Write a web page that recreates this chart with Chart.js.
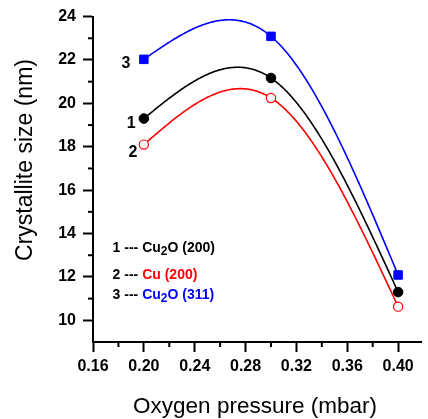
<!DOCTYPE html>
<html>
<head>
<meta charset="utf-8">
<script src="https://cdn.jsdelivr.net/npm/chart.js@4"></script>
<style>
  html, body { margin: 0; padding: 0; background: #fff; }
</style>
</head>
<body>
<canvas id="sizeChart" width="428" height="419"></canvas>
<script>
// Crystallite size vs oxygen pressure

const pressures = [0.20, 0.30, 0.40];
const cu2o200 = [19.30, 21.17, 11.30];
const cu200 = [18.10, 20.25, 10.63];
const cu2o311 = [22.03, 23.09, 12.09];

const xTicks = [0.16, 0.20, 0.24, 0.28, 0.32, 0.36, 0.40];
const yTicks = [10, 12, 14, 16, 18, 20, 22, 24];
const xMinor = [0.18, 0.22, 0.26, 0.30, 0.34, 0.38];
const yMinor = [11, 13, 15, 17, 19, 21, 23];

const FONT = "'Liberation Sans', Arial, sans-serif";

const points = (ys) => pressures.map((x, i) => ({ x: x, y: ys[i] }));

// natural cubic spline through the points (like Origin's spline connect)
function naturalSpline(xs, ys) {
  const n = xs.length;
  const h = [];
  const m = new Array(n).fill(0);
  for (let i = 0; i < n - 1; i++) h.push(xs[i + 1] - xs[i]);
  const a = [], b = [], c = [], d = [];
  for (let i = 1; i < n - 1; i++) {
    a.push(h[i - 1]);
    b.push(2 * (h[i - 1] + h[i]));
    c.push(h[i]);
    d.push(6 * ((ys[i + 1] - ys[i]) / h[i] - (ys[i] - ys[i - 1]) / h[i - 1]));
  }
  const k = b.length;
  for (let i = 1; i < k; i++) {
    const w = a[i] / b[i - 1];
    b[i] -= w * c[i - 1];
    d[i] -= w * d[i - 1];
  }
  for (let i = k - 1; i >= 0; i--) {
    m[i + 1] = (d[i] - (i < k - 1 ? c[i] * m[i + 2] : 0)) / b[i];
  }
  return function (x) {
    let i = 0;
    while (i < n - 2 && x > xs[i + 1]) i++;
    const hi = h[i], t0 = xs[i + 1] - x, t1 = x - xs[i];
    return m[i] * t0 * t0 * t0 / (6 * hi) + m[i + 1] * t1 * t1 * t1 / (6 * hi) +
      (ys[i] / hi - m[i] * hi / 6) * t0 + (ys[i + 1] / hi - m[i + 1] * hi / 6) * t1;
  };
}

const splinePlugin = {
  id: 'splines',
  beforeDatasetsDraw(chart) {
    const ctx = chart.ctx;
    const xs = chart.scales.x, ys = chart.scales.y;
    chart.data.datasets.forEach((ds) => {
      const px = ds.data.map(p => p.x), py = ds.data.map(p => p.y);
      const f = naturalSpline(px, py);
      const x0 = px[0], x1 = px[px.length - 1];
      ctx.save();
      ctx.beginPath();
      for (let s = 0; s <= 200; s++) {
        const x = x0 + (x1 - x0) * s / 200;
        const X = xs.getPixelForValue(x), Y = ys.getPixelForValue(f(x));
        if (s === 0) ctx.moveTo(X, Y); else ctx.lineTo(X, Y);
      }
      ctx.strokeStyle = ds.borderColor;
      ctx.lineWidth = 1.6;
      ctx.stroke();
      ctx.restore();
    });
  }
};

// minor ticks, axis titles, curve numbers and the text legend
const decorPlugin = {
  id: 'decor',
  afterDraw(chart) {
    const ctx = chart.ctx;
    const xs = chart.scales.x, ys = chart.scales.y;
    const area = chart.chartArea;
    ctx.save();
    ctx.strokeStyle = '#000';
    ctx.lineWidth = 2;
    xMinor.forEach(v => {
      const X = xs.getPixelForValue(v);
      ctx.beginPath();
      ctx.moveTo(X, area.bottom);
      ctx.lineTo(X, area.bottom + 5);
      ctx.stroke();
    });
    yMinor.forEach(v => {
      const Y = ys.getPixelForValue(v);
      ctx.beginPath();
      ctx.moveTo(area.left, Y);
      ctx.lineTo(area.left - 5, Y);
      ctx.stroke();
    });

    ctx.fillStyle = '#000';
    ctx.textAlign = 'center';
    ctx.textBaseline = 'alphabetic';
    ctx.font = '22.5px ' + FONT;
    ctx.fillText('Oxygen pressure (mbar)', 255, 413);
    ctx.save();
    ctx.translate(32, 160);
    ctx.rotate(-Math.PI / 2);
    ctx.font = '23px ' + FONT;
    ctx.fillText('Crystallite size (nm)', 0, 0);
    ctx.restore();

    // curve numbers
    ctx.font = 'bold 16px ' + FONT;
    ctx.textBaseline = 'middle';
    [['3', 0.186, 21.83], ['1', 0.190, 19.06], ['2', 0.1915, 17.72]].forEach(([t, x, y]) => {
      ctx.fillText(t, xs.getPixelForValue(x), ys.getPixelForValue(y));
    });

    // legend text
    const legendRows = [
      { num: '1', color: '#000000', parts: ['Cu', '2', 'O (200)'], y: 13.38 },
      { num: '2', color: '#ff0000', parts: ['Cu (200)'], y: 12.15 },
      { num: '3', color: '#0000ff', parts: ['Cu', '2', 'O (311)'], y: 11.22 }
    ];
    ctx.textAlign = 'left';
    ctx.textBaseline = 'alphabetic';
    legendRows.forEach(row => {
      let X = xs.getPixelForValue(0.1754);
      const Y = ys.getPixelForValue(row.y) + 5;
      ctx.font = 'bold 14px ' + FONT;
      ctx.fillStyle = '#000';
      const lead = row.num + ' --- ';
      ctx.fillText(lead, X, Y);
      X += ctx.measureText(lead).width;
      ctx.fillStyle = row.color;
      row.parts.forEach((p, i) => {
        const sub = row.parts.length === 3 && i === 1;
        ctx.font = (sub ? 'bold 12px ' : 'bold 14px ') + FONT;
        ctx.fillText(p, X, Y + (sub ? 3.5 : 0));
        X += ctx.measureText(p).width;
      });
    });
    ctx.restore();
  }
};

const tickFont = { family: FONT, size: 16, weight: 'bold' };

new Chart(document.getElementById('sizeChart'), {
  type: 'line',

  data: {
    datasets: [
      {
        label: 'Cu2O (200)',
        data: points(cu2o200),
        showLine: false,
        borderColor: '#000000',
        pointStyle: 'circle',
        pointRadius: 4.8,
        pointBackgroundColor: '#000000',
        pointBorderColor: '#000000',
        pointBorderWidth: 1
      },
      {
        label: 'Cu (200)',
        data: points(cu200),
        showLine: false,
        borderColor: '#ff0000',
        pointStyle: 'circle',
        pointRadius: 4.6,
        pointBackgroundColor: '#ffffff',
        pointBorderColor: '#ff0000',
        pointBorderWidth: 1.2
      },
      {
        label: 'Cu2O (311)',
        data: points(cu2o311),
        showLine: false,
        borderColor: '#0000ff',
        pointStyle: 'rect',
        pointRadius: 6,
        pointBackgroundColor: '#0000ff',
        pointBorderColor: '#0000ff',
        pointBorderWidth: 1
      }
    ]
  },

  options: {
    responsive: false,
    animation: false,
    devicePixelRatio: 1,
    layout: { padding: { top: 16, right: 0, left: 0, bottom: 0 } },

    plugins: {
      legend: { display: false },
      tooltip: { enabled: false }
    },

    scales: {
      x: {
        type: 'linear',
        min: 0.16,
        max: 0.418,
        afterFit: (s) => { s.height = 77; },
        afterBuildTicks: (s) => { s.ticks = xTicks.map(v => ({ value: v })); },
        border: { color: '#000', width: 2 },
        grid: { drawOnChartArea: false, tickLength: 10, tickWidth: 2, tickColor: '#000' },
        ticks: {
          color: '#000',
          font: tickFont,
          padding: 5,
          maxRotation: 0,
          callback: (v) => v.toFixed(2)
        }
      },

      y: {
        min: 9,
        max: 24,
        afterFit: (s) => { s.width = 93; },
        afterBuildTicks: (s) => { s.ticks = yTicks.map(v => ({ value: v })); },
        border: { color: '#000', width: 2 },
        grid: { drawOnChartArea: false, tickLength: 10, tickWidth: 2, tickColor: '#000' },
        ticks: {
          color: '#000',
          font: tickFont,
          padding: 7
        }
      }
    }
  },

  plugins: [splinePlugin, decorPlugin]
});
</script>
</body>
</html>
